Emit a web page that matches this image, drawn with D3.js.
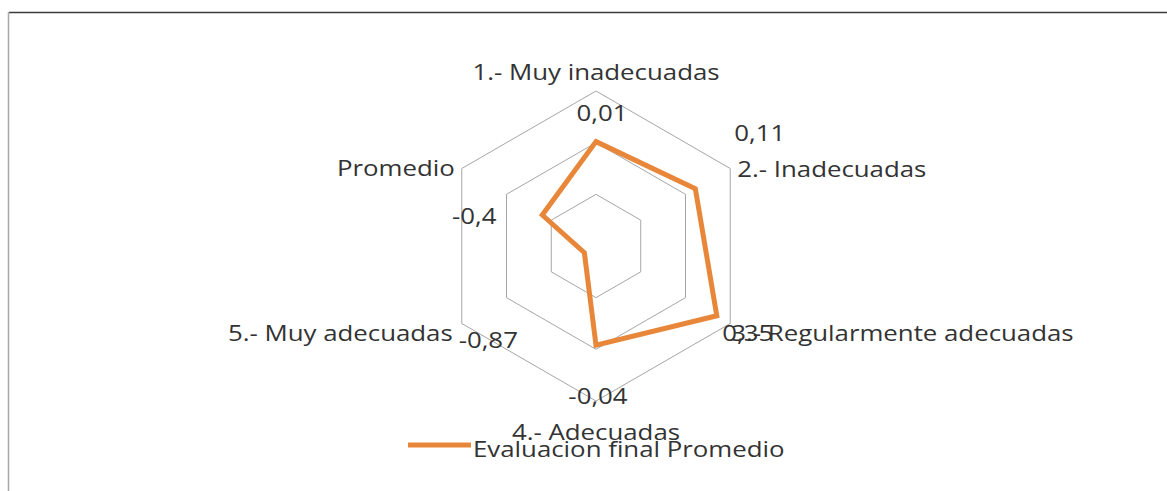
<!DOCTYPE html>
<html><head><meta charset="utf-8">
<script src="https://cdn.jsdelivr.net/npm/d3@7"></script>
<style>
body{margin:0;background:#fff;}
text{font-family:"Open Sans",sans-serif;fill:#333333;}
</style></head>
<body><svg id="c" width="1167" height="491"></svg>
<script>
const categories = ["1.- Muy inadecuadas","2.- Inadecuadas","3.- Regularmente adecuadas","4.- Adecuadas","5.- Muy adecuadas","Promedio"];
const values = [0.01, 0.11, 0.35, -0.04, -0.87, -0.4];
const valueLabels = ["0,01","0,11","0,35","-0,04","-0,87","-0,4"];
const ringTicks = [-0.5, 0, 0.5];
const axisDomain = [-1, 0.5];
const seriesName = "Evaluacion final Promedio";

const W = 1167, H = 491;
const cx = 596, cy = 246, R = 155;
const SX = 1.23, FS = 21;
const orange = "#E8873A";

const svg = d3.select("#c");
// frame
svg.append("line").attr("x1",9).attr("x2",W).attr("y1",12.5).attr("y2",12.5).attr("stroke","#3a3a3a").attr("stroke-width",1.5);
svg.append("line").attr("x1",8.5).attr("x2",8.5).attr("y1",12).attr("y2",H).attr("stroke","#a8a8a8").attr("stroke-width",1.5);

const r = d3.scaleLinear().domain(axisDomain).range([0, R]);
const n = categories.length;
const ang = i => i * 2 * Math.PI / n;
const pt = (i, rad) => [cx + rad * Math.sin(ang(i)), cy - rad * Math.cos(ang(i))];

const g = svg.append("g").attr("transform", `translate(${cx},${cy})`);
const radial = d3.lineRadial().angle((d,i) => ang(i)).radius(d => r(d)).curve(d3.curveLinearClosed);

// rings
ringTicks.forEach(t => {
  g.append("path").attr("d", radial(categories.map(() => t)))
    .attr("fill","none").attr("stroke","#a6a6a6").attr("stroke-width",1);
});

// series
g.append("path").attr("d", radial(values))
  .attr("fill","none").attr("stroke",orange).attr("stroke-width",5).attr("stroke-linejoin","miter");

function txt(x, y, s, anchor){
  svg.append("text").attr("transform",`translate(${x},${y}) scale(${SX},1)`)
    .attr("text-anchor",anchor).attr("font-size",FS).text(s);
}

// category labels (offset from outer vertex)
const catLayout = [
  {dx:0, dy:-11, a:"middle"},
  {dx:7, dy:8.5, a:"start"},
  {dx:1, dy:17.5, a:"start"},
  {dx:0, dy:39, a:"middle"},
  {dx:-9, dy:17.5, a:"end"},
  {dx:-7, dy:7.5, a:"end"}
];
categories.forEach((c,i) => {
  const [x,y] = pt(i, R);
  txt(x + catLayout[i].dx, y + catLayout[i].dy, c, catLayout[i].a);
});

// value labels
const valLayout = [
  {dx:6, dy:30},
  {dx:29.5, dy:-27.5},
  {dx:17.5, dy:17.5},
  {dx:2, dy:3},
  {dx:26.5, dy:24.5},
  {dx:12.5, dy:55.5}
];
valueLabels.forEach((s,i) => {
  const [x,y] = pt(i, R);
  txt(x + valLayout[i].dx, y + valLayout[i].dy, s, "middle");
});

// legend
svg.append("line").attr("x1",408).attr("x2",471).attr("y1",445).attr("y2",445)
  .attr("stroke",orange).attr("stroke-width",5);
txt(473, 457, seriesName, "start");
</script></body></html>
